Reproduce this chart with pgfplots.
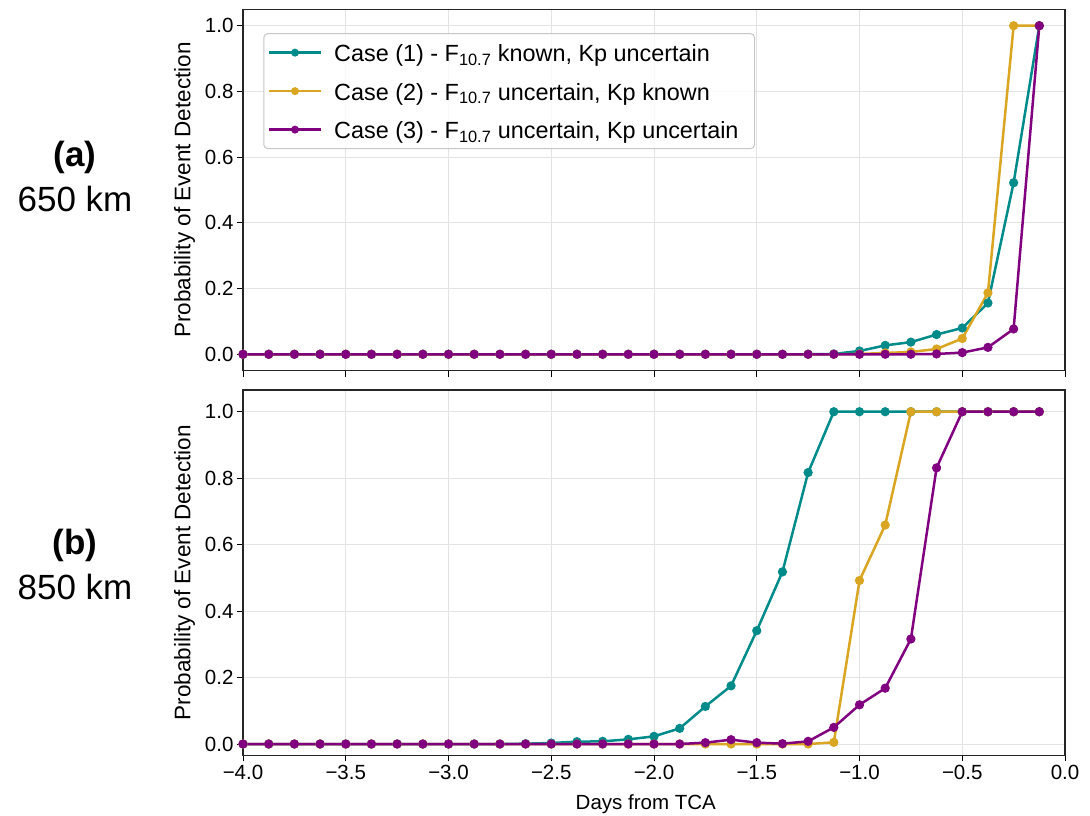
\documentclass[border=0pt]{standalone}
\usepackage{pgfplots}
\usepackage{pgfplotstable}
\pgfplotsset{compat=1.18}
\usepackage{fontspec}
\setmainfont{Liberation Sans}

\definecolor{caseA}{RGB}{0,139,139}
\definecolor{caseB}{RGB}{218,165,32}
\definecolor{caseC}{RGB}{128,0,128}

% Detection probability vs. days from TCA
% a1..a3: 650 km, b1..b3: 850 km (cases 1, 2, 3)
\pgfplotstableread{
x       a1     a2     a3     b1     b2     b3
-4.000  0.000  0.000  0.000  0.000  0.000  0.000
-3.875  0.000  0.000  0.000  0.000  0.000  0.000
-3.750  0.000  0.000  0.000  0.000  0.000  0.000
-3.625  0.000  0.000  0.000  0.000  0.000  0.000
-3.500  0.000  0.000  0.000  0.000  0.000  0.000
-3.375  0.000  0.000  0.000  0.000  0.000  0.000
-3.250  0.000  0.000  0.000  0.000  0.000  0.000
-3.125  0.000  0.000  0.000  0.000  0.000  0.000
-3.000  0.000  0.000  0.000  0.000  0.000  0.000
-2.875  0.000  0.000  0.000  0.000  0.000  0.000
-2.750  0.000  0.000  0.000  0.000  0.000  0.000
-2.625  0.000  0.000  0.000  0.001  0.000  0.000
-2.500  0.000  0.000  0.000  0.003  0.000  0.000
-2.375  0.000  0.000  0.000  0.007  0.000  0.000
-2.250  0.000  0.000  0.000  0.008  0.000  0.000
-2.125  0.000  0.000  0.000  0.014  0.000  0.000
-2.000  0.000  0.000  0.000  0.023  0.000  0.000
-1.875  0.000  0.000  0.000  0.047  0.000  0.000
-1.750  0.000  0.000  0.000  0.113  0.000  0.004
-1.625  0.000  0.000  0.000  0.175  0.000  0.013
-1.500  0.000  0.000  0.000  0.341  0.000  0.004
-1.375  0.000  0.000  0.000  0.518  0.000  0.001
-1.250  0.000  0.000  0.000  0.817  0.000  0.008
-1.125  0.001  0.000  0.000  1.000  0.005  0.050
-1.000  0.010  0.001  0.000  1.000  0.492  0.118
-0.875  0.027  0.004  0.000  1.000  0.659  0.168
-0.750  0.037  0.007  0.000  1.000  1.000  0.316
-0.625  0.060  0.016  0.001  1.000  1.000  0.831
-0.500  0.080  0.048  0.005  1.000  1.000  1.000
-0.375  0.156  0.187  0.021  1.000  1.000  1.000
-0.250  0.522  1.000  0.077  1.000  1.000  1.000
-0.125  1.000  1.000  1.000  1.000  1.000  1.000
}\probdata

\pgfplotsset{
  panel/.style={
    scale only axis,
    width=822pt,
    xmin=-4, xmax=0,
    xtick={-4,-3.5,...,0},
    ytick={0,0.2,0.4,0.6,0.8,1.0},
    yticklabels={0.0,0.2,0.4,0.6,0.8,1.0},
    tick align=outside,
    major tick length=6pt,
    tick style={black, line width=1pt},
    xtick pos=bottom, ytick pos=left,
    axis line style={black!85, line width=1.1pt},
    grid=major,
    major grid style={draw=black!11, line width=0.9pt},
    /pgf/number format/assume math mode=true,
    ticklabel style={font=\fontsize{20.5}{24}\selectfont},
    ylabel={Probability of Event Detection},
    ylabel style={font=\fontsize{22.5}{26}\selectfont, at={(axis description cs:-0.071,0.5)}, anchor=center},
    every axis plot/.append style={line width=2.5pt, mark=*, mark size=3.3pt},
    legend image code/.code={%
      \draw[#1, line width=2.4pt, mark size=2.7pt, mark repeat=2, mark phase=2]
        plot coordinates {(0pt,0pt) (26pt,0pt) (52pt,0pt)};},
  },
}

\begin{document}
\begin{tikzpicture}
\useasboundingbox (0pt,0pt) rectangle (1090pt,816pt);

% (a) 650 km
\begin{axis}[panel,
  at={(243pt,445.3pt)}, anchor=south west,
  height=361.4pt,
  ymin=-0.05, ymax=1.05,
  xticklabels={},
  legend cell align=left,
  legend style={
    at={(0.0247,0.934)}, anchor=north west,
    font=\fontsize{23.4}{27}\selectfont,
    draw=black!22, line width=1pt, rounded corners=4pt,
    fill=white, fill opacity=0.85, text opacity=1,
    inner xsep=4pt, inner ysep=5pt,
    row sep=10.5pt, column sep=12pt,
    nodes={inner sep=0pt, text height=23pt, text depth=5pt},
  },
]
\addplot[color=caseA] table[x=x, y=a1] {\probdata};
\addlegendentry{Case (1) - F\textsubscript{10.7} known, Kp uncertain}
\addplot[color=caseB] table[x=x, y=a2] {\probdata};
\addlegendentry{Case (2) - F\textsubscript{10.7} uncertain, Kp known}
\addplot[color=caseC] table[x=x, y=a3] {\probdata};
\addlegendentry{Case (3) - F\textsubscript{10.7} uncertain, Kp uncertain\rule{12pt}{0pt}}
\end{axis}

% (b) 850 km
\begin{axis}[panel,
  at={(243pt,60.5pt)}, anchor=south west,
  height=365.5pt,
  ymin=-0.0346, ymax=1.0654,
  xticklabels={−4.0,−3.5,−3.0,−2.5,−2.0,−1.5,−1.0,−0.5,0.0},
  xlabel={Days from TCA},
  xlabel style={font=\fontsize{20.5}{24}\selectfont, at={(axis description cs:0.49,-0.133)}, anchor=center},
]
\addplot[color=caseA] table[x=x, y=b1] {\probdata};
\addplot[color=caseB] table[x=x, y=b2] {\probdata};
\addplot[color=caseC] table[x=x, y=b3] {\probdata};
\end{axis}

% panel captions
\node[font=\fontsize{35}{40}\selectfont\bfseries] at (75pt,659pt) {(a)};
\node[font=\fontsize{35}{40}\selectfont] at (75pt,617pt) {650 km};
\node[font=\fontsize{35}{40}\selectfont\bfseries] at (75pt,271pt) {(b)};
\node[font=\fontsize{35}{40}\selectfont] at (75pt,229pt) {850 km};
\end{tikzpicture}
\end{document}
